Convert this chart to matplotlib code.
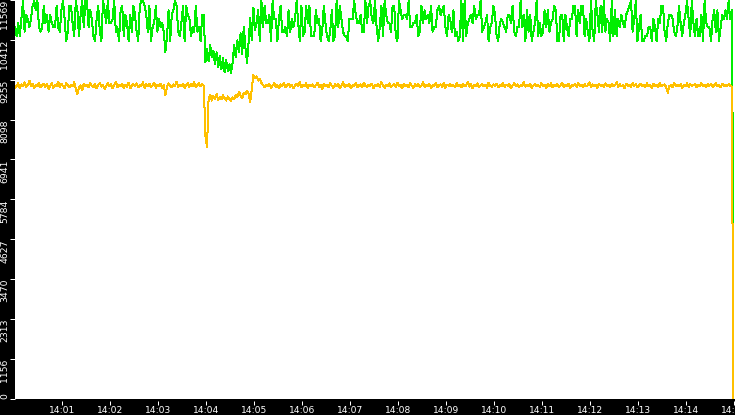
import datetime as dt
import matplotlib
matplotlib.use("Agg")
import matplotlib.pyplot as plt
import matplotlib.dates as mdates

# samples every 2 s starting 14:00:01
start = dt.datetime(2024, 1, 1, 14, 0, 1)
step_s = 2

# green series (upper trace)
green_pre = [
    10780, 10520, 10900, 10520, 11020, 11540, 10650, 11140, 11020, 10780,
    11020, 11400, 11540, 11270, 11540, 10780, 10650, 10780, 11400, 10900,
    11140, 10650, 11140, 10900, 10780, 10780, 11400, 10780, 10650, 11270,
    11540, 11020, 10380, 10650, 11400, 11400, 10900, 10520, 11540, 11270,
    10520, 11140, 11540, 10780, 11540, 11540, 10780, 11270, 11020, 10520,
    10380, 11020, 11400, 10650, 10380, 11540, 11270, 10900, 11540, 10900,
    10900, 11020, 11540, 10650, 10780, 10380, 11270, 11400, 10520, 11140,
    10900, 10380, 11140, 10650, 11400, 11140, 10650, 10380, 11400, 11540,
    11540, 11400, 11140, 10650, 11400, 10380, 10780, 10900, 11400, 10650,
    11020, 10780, 10900, 10650, 10060, 10520, 11270, 10380, 11140, 11270,
    11540, 11400, 10650, 10520, 10900, 11400, 10380, 11400, 11140, 11020,
    10520, 10780, 10650, 11400, 10650, 10780, 10380, 11140, 11140,
]
green_dip = [
    9760, 10150, 9800, 10250, 9900, 10100, 9700, 10050, 9620, 9950, 9550, 9880, 9480, 9820, 9520,
    9700, 9460, 9750, 10250, 9900, 10400, 10050,
    10600, 10000, 10800, 10200, 9750, 10350, 11050, 10400, 11350, 10700,
]
green_post = [
    10900, 11270, 10380, 11540, 10780, 11400, 10900, 10900, 11140, 10380,
    11540, 11020, 11020, 10380, 11020, 11400, 10650, 10650, 10780, 10520,
    11270, 10650, 11020, 10780, 11020, 11540, 10900, 10380, 11400, 10520,
    10650, 11400, 10900, 11400, 10520, 10520, 10520, 11270, 10900, 11020,
    10380, 10650, 11400, 10900, 10520, 10380, 10650, 11270, 10380, 10520,
    11540, 10780, 11400, 11020, 10650, 10520, 10520, 10380, 11020, 11020,
    11020, 11540, 11140, 10900, 10900, 11140, 10650, 10650, 11540, 10900,
    11400, 11540, 11020, 10900, 11540, 10780, 10380, 10780, 11400, 10520,
    11540, 11140, 10900, 10900, 10650, 11400, 11400, 10520, 10380, 11540,
    11270, 11020, 11140, 11140, 11020, 11540, 10780, 10780, 10900, 10900,
    11140, 10520, 10650, 11400, 10900, 11270, 11020, 11140, 10900, 11400,
    10650, 10780, 10780, 11270, 11400, 11140, 11270, 11400, 10780, 10520,
    11140, 11020, 10650, 11270, 10520, 10650, 10380, 10520, 11540, 10380,
    11540, 10520, 10900, 11020, 11140, 10900, 11400, 11020, 11140, 11140,
    11540, 10650, 10780, 10900, 11140, 10380, 10780, 10900, 11400, 11140,
    10520, 10380, 10900, 11020, 10900, 10780, 10650, 11140, 11140, 10900,
    11400, 10650, 10520, 10780, 10780, 11540, 10780, 11140, 10380, 11270,
    10650, 11140, 10380, 10650, 10900, 11540, 10520, 10900, 10520, 10650,
    11270, 10780, 11270, 10650, 10900, 11020, 11400, 11270, 10380, 10380,
    11140, 11140, 10380, 11140, 10780, 10520, 11020, 11020, 11400, 11400,
    10520, 11270, 10900, 11400, 11400, 10520, 11020, 10650, 10380, 11540,
    10650, 10380, 11540, 11140, 10650, 11400, 10650, 11540, 10650, 11020,
    10900, 10380, 11540, 10520, 11270, 10520, 11020, 10780, 11140, 10900,
    10780, 11140, 11270, 11400, 11540, 10650, 11020, 11540, 10380, 10780,
    11140, 10380, 10380, 10520, 10520, 10780, 10780, 10380, 11020, 10780,
    10380, 11020, 10900, 11400, 11400, 10650, 10380, 10900, 11140, 11140,
    11020, 10650, 10520, 10780, 11400, 10900, 10520, 10900, 11140, 11540,
    11020, 10520, 11540, 10900, 10520, 11020, 10520, 10520, 11140, 10380,
    11540, 10900, 10780, 10780, 10380, 11020, 11270, 10650, 11270, 10380,
    10780, 11140, 11020, 11270, 11020, 11540, 11020, 11270,
    4500,
]

# orange series (lower trace)
orange_pre = [
    9010, 9080, 9150, 9020, 9120, 9060, 9180, 9040, 9100, 9230, 9070, 9140, 9000, 9110, 9060,
    9170, 9030, 9090, 9140, 9050, 9120, 8990, 9080, 9160, 9020, 9100, 9060, 9200, 9040, 9130,
    9070, 9010, 9150, 9090, 9030, 9110, 9060, 9180, 9000, 8830, 9050, 9090, 8950, 9140, 9070,
    9100, 9030, 9160, 9080, 9040, 9130, 9000, 9090, 9170, 9050, 9110, 8980, 9080, 9150, 9060,
    9120, 9010, 9090, 9200, 9040, 9100, 9070, 9140, 9020, 9110, 9050, 9170, 9000, 9080, 9130,
    9060, 9150, 9030, 9100, 9080, 9180, 9010, 9120, 9060, 9140, 9040, 9090, 9160, 9020, 9110,
    9070, 9130, 9000, 9100, 8800, 9060, 9150, 9080, 9030, 9120, 9060, 9200, 9040, 9110, 9070,
    9140, 9020, 9090, 9160, 9050, 9120, 9070, 9180, 9030, 9100, 9150, 9060, 9120, 9080,
]
orange_dip = [
    7640, 7290, 8700, 8820, 8650, 8780, 8700, 8840, 8660, 8760, 8690, 8800, 8720, 8650, 8770,
    8700, 8640, 8740, 8700, 8820, 8760, 8900, 8800, 8720, 8880, 8830, 8940, 8860, 8620, 8980,
    9390, 9300, 9350, 9230, 9280, 9160, 9100,
]
orange_post = [
    9040, 9110, 9070, 9130, 9020, 9090, 9150, 9050, 9100, 9010, 9120, 9060, 9170, 9030, 9090,
    9140, 9050, 9110, 9000, 9080, 9130, 9060, 9190, 9040, 9100, 9070, 9150, 9020, 9110, 9060,
    9120, 9030, 9090, 9170, 9050, 9100, 8990, 9130, 9070, 9110, 9040, 9160, 9080, 9020, 9120,
    9060, 9140, 9010, 9090, 9180, 9050, 9110, 9070, 9130, 9000, 9100, 9060, 9150, 9040, 9090,
    9120, 9030, 9170, 9080, 9050, 9110, 9070, 9140, 9010, 9100, 9060, 9130, 9040, 9190, 9080,
    9020, 9110, 9060, 9150, 9030, 9090, 9120, 9050, 9170, 9070, 9100, 9000, 9130, 9060, 9110,
    9040, 9160, 9080, 9020, 9120, 9070, 9140, 9030, 9090, 9180, 9050, 9110, 9060, 9130, 9010,
    9100, 9070, 9150, 9040, 9090, 9120, 9050, 9170, 9020, 9110, 9080, 9140, 9060, 9100, 9030,
    9160, 9070, 9110, 9040, 9130, 9060, 9090, 9200, 9050, 9120, 9010, 9100, 9070, 9150, 9040,
    9090, 9130, 9060, 9110, 9020, 9170, 9080, 9050, 9120, 9070, 9140, 9030, 9100, 9060, 9160,
    9040, 9110, 9080, 9130, 9000, 9090, 9150, 9060, 9120, 9030, 9100, 9070, 9180, 9050, 9110,
    9060, 9140, 9020, 9090, 9130, 9070, 9100, 9040, 9160, 9080, 9110, 9010, 9120, 9060, 9150,
    9030, 9100, 9070, 9130, 9050, 9090, 9170, 9040, 9110, 9060, 9140, 9020, 9100, 9080, 9120,
    9050, 9160, 9070, 9110, 9030, 9130, 9060, 9090, 9180, 9040, 9120, 9070, 9100, 9020, 9140,
    9080, 9110, 9050, 9150, 9060, 9100, 9030, 9130, 9070, 9090, 9190, 9040, 9120, 9060, 9110,
    9010, 9140, 9080, 9100, 9050, 9160, 9070, 9120, 9030, 9090, 9130, 9060, 9110, 9040, 9150,
    9070, 9100, 9020, 9130, 9080, 9110, 9050, 9170, 9060, 9090, 9120, 9040, 8880, 9070, 9100,
    9030, 9160, 9080, 9110, 9060, 9130, 9010, 9100, 9070, 9150, 9050, 9120, 9080, 9090, 9140,
    9040, 9110, 9070, 9160, 9060, 9100, 9030, 9130, 9080, 9120, 9050, 9090, 9170, 9060, 9110,
    9040, 9140, 9070, 9100, 9060, 9130, 9080, 9050,
    0,
]

y_ticks = [0, 1156, 2313, 3470, 4627, 5784, 6941, 8098, 9255, 10412, 11569]
y_top = 11569

green = green_pre + green_dip + green_post
orange = orange_pre + orange_dip + orange_post
t_green = [start + dt.timedelta(seconds=step_s * i) for i in range(len(green))]
t_orange = [start + dt.timedelta(seconds=step_s * i) for i in range(len(orange))]

W, H = 735, 415
fig = plt.figure(figsize=(W / 100, H / 100), dpi=100, facecolor="black")
ax = fig.add_axes([15 / W, 16.5 / H, 720 / W, 398.5 / H])
ax.set_facecolor("white")

px = 0.72  # one pixel in points
ax.plot(t_green, green, color="#00ee00", lw=px, antialiased=False)
ax.plot(t_orange, orange, color="#ffc000", lw=px, antialiased=False)

ax.set_ylim(0, y_top)
ax.set_xlim(start, start + dt.timedelta(minutes=15))

for s in ax.spines.values():
    s.set_visible(False)
ax.spines["bottom"].set_position(("outward", 2 * px))

ax.xaxis.set_major_locator(mdates.MinuteLocator())
ax.xaxis.set_major_formatter(mdates.DateFormatter("%H:%M"))
ax.tick_params(axis="x", colors="white", length=4 * px, width=px, pad=1 * px,
               labelsize=6.6)

ax.set_yticks(y_ticks)
ax.set_yticklabels([str(v) for v in y_ticks], rotation=90,
                   family="Liberation Sans Narrow", fontsize=6.7)
ax.tick_params(axis="y", colors="white", length=5 * px, width=px, pad=0.5 * px)
for lab in ax.get_yticklabels():
    lab.set_va("top")
ax.get_yticklabels()[0].set_va("bottom")

fig.savefig("out.png", dpi=100, facecolor="black")
